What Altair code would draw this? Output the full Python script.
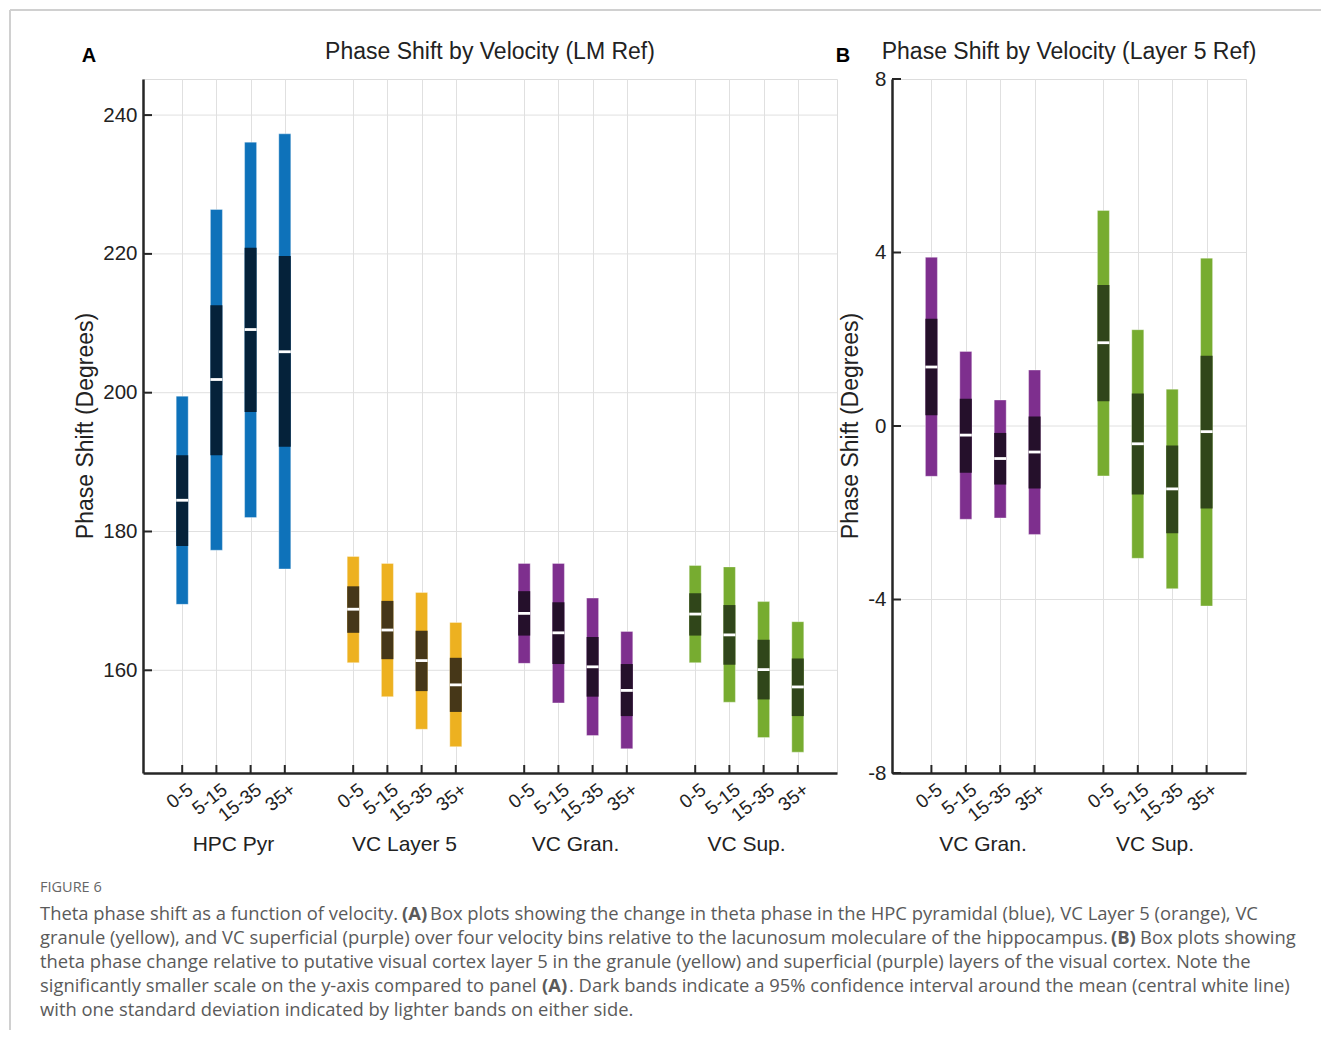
import json
import altair as alt
import pandas as pd

# ---------------- data ----------------
BINS = ["0-5", "5-15", "15-35", "35+"]
GROUPS_A = ["HPC Pyr", "VC Layer 5", "VC Gran.", "VC Sup."]
GROUPS_B = ["VC Gran.", "VC Sup."]

# Panel A (degrees), one list per group over the four velocity bins
A_SD_HI = [[199.5, 226.4, 236.1, 237.3], [176.4, 175.4, 171.2, 166.9],
           [175.4, 175.4, 170.4, 165.6], [175.1, 174.9, 169.9, 167.0]]
A_CI_HI = [[191.0, 212.6, 220.9, 219.7], [172.1, 170.0, 165.7, 161.8],
           [171.4, 169.8, 164.8, 160.9], [171.1, 169.4, 164.4, 161.7]]
A_MEAN = [[184.5, 201.9, 209.1, 205.9], [168.8, 165.8, 161.4, 157.9],
          [168.2, 165.4, 160.5, 157.1], [168.1, 165.1, 160.1, 157.6]]
A_CI_LO = [[177.9, 191.0, 197.2, 192.2], [165.4, 161.6, 157.0, 154.0],
           [165.0, 160.9, 156.2, 153.4], [165.0, 160.8, 155.8, 153.4]]
A_SD_LO = [[169.5, 177.3, 182.0, 174.6], [161.1, 156.2, 151.5, 149.0],
           [161.0, 155.3, 150.6, 148.7], [161.1, 155.4, 150.3, 148.2]]

# Panel B (degrees)
B_SD_HI = [[3.89, 1.72, 0.60, 1.29], [4.97, 2.22, 0.85, 3.87]]
B_CI_HI = [[2.47, 0.63, -0.16, 0.22], [3.25, 0.75, -0.45, 1.62]]
B_MEAN = [[1.36, -0.21, -0.75, -0.60], [1.92, -0.41, -1.45, -0.13]]
B_CI_LO = [[0.25, -1.08, -1.35, -1.44], [0.57, -1.58, -2.47, -1.90]]
B_SD_LO = [[-1.16, -2.15, -2.12, -2.50], [-1.15, -3.05, -3.75, -4.15]]

A_YTICKS = [160, 180, 200, 220, 240]
B_YTICKS = [-8, -4, 0, 4, 8]
B_YGRID = [-4, 0, 4]

LIGHT = {"HPC Pyr": "#0E72BA", "VC Layer 5": "#EDB120", "VC Gran.": "#7E2F8E", "VC Sup.": "#77AC30"}
DARK = {"HPC Pyr": "#05223A", "VC Layer 5": "#463718", "VC Gran.": "#25102B", "VC Sup.": "#30461A"}

CAPTION_HEAD = "FIGURE 6"
# (line, x offset in px from caption left, text, bold)
CAPTION = [
    (0, 0, "Theta phase shift as a function of velocity.", False),
    (0, 362, "(A)", True),
    (0, 390, "Box plots showing the change in theta phase in the HPC pyramidal (blue), VC Layer 5 (orange), VC", False),
    (1, 0, "granule (yellow), and VC superficial (purple) over four velocity bins relative to the lacunosum moleculare of the hippocampus.", False),
    (1, 1071, "(B)", True),
    (1, 1100, "Box plots showing", False),
    (2, 0, "theta phase change relative to putative visual cortex layer 5 in the granule (yellow) and superficial (purple) layers of the visual cortex. Note the", False),
    (3, 0, "significantly smaller scale on the y-axis compared to panel", False),
    (3, 502, "(A)", True),
    (3, 529, ". Dark bands indicate a 95% confidence interval around the mean (central white line)", False),
    (4, 0, "with one standard deviation indicated by lighter bands on either side.", False),
]

# ---------------- layout ----------------
W_A, W_B, H = 694, 354, 694
SPACING = 55
AX = "#262626"
GRID = "#e0e0e0"
FONT = "Liberation Sans"
CAP_FONT = "Open Sans"


def make_df(groups, sd_hi, ci_hi, mean, ci_lo, sd_lo):
    rows = []
    for gi, g in enumerate(groups):
        for bi, b in enumerate(BINS):
            rows.append(dict(group=g, bin=b, pos=gi * 5 + bi + 1,
                             sd_hi=sd_hi[gi][bi], ci_hi=ci_hi[gi][bi], mean=mean[gi][bi],
                             ci_lo=ci_lo[gi][bi], sd_lo=sd_lo[gi][bi],
                             light=LIGHT[g], dark=DARK[g]))
    return pd.DataFrame(rows)


def txt(text, x, y, size=20, bold=False, align="center", angle=0, color="#222222", font=FONT, baseline="middle"):
    kw = dict(fontSize=size, font=font, align=align, baseline=baseline, color=color,
              fontWeight="bold" if bold else "normal")
    if angle:
        kw["angle"] = angle
    return alt.Chart(pd.DataFrame({"t": [text]})).mark_text(**kw).encode(
        x=alt.value(x), y=alt.value(y), text="t:N")


def panel(df, groups, width, xmax, ydom, yticks, ygrid, title, letter, letter_x, ytitle_x):
    label_expr = json.dumps(BINS) + "[(datum.value - 1) % 5]"
    xs = alt.Scale(domain=[0, xmax], nice=False, zero=False)
    ys = alt.Scale(domain=ydom, nice=False, zero=False)
    xaxis = alt.Axis(values=list(df["pos"]), labelExpr=label_expr, title=None, ticks=False,
                     grid=True, gridColor=GRID, gridWidth=1, domainColor=AX, domainWidth=2.5,
                     labelAngle=322, labelAlign="right", labelBaseline="middle",
                     labelFontSize=19, labelFont=FONT, labelColor="#222222",
                     labelPadding=14, labelOffset=8, labelOverlap=False, labelBound=False)
    yaxis = alt.Axis(values=yticks, title=None, ticks=False, grid=False, domainColor=AX,
                     domainWidth=2.5, labelFontSize=20.5, labelFont=FONT, labelColor="#222222",
                     labelPadding=6, labelExpr="'' + datum.value", labelOverlap=False)

    base = alt.Chart(df)
    grid_y = alt.Chart(pd.DataFrame({"v": ygrid})).mark_rule(color=GRID, strokeWidth=1).encode(
        y=alt.Y("v:Q", scale=ys, axis=yaxis), x=alt.value(0), x2=alt.value(width))
    light = base.mark_bar(size=12, stroke="white", strokeWidth=1, strokeOpacity=0.35).encode(
        x=alt.X("pos:Q", scale=xs, axis=xaxis),
        y=alt.Y("sd_lo:Q", scale=ys, axis=yaxis), y2="sd_hi:Q",
        color=alt.Color("light:N", scale=None))
    dark = base.mark_bar(size=12).encode(
        x="pos:Q", y="ci_lo:Q", y2="ci_hi:Q", color=alt.Color("dark:N", scale=None))
    meanl = base.mark_tick(orient="horizontal", size=12, thickness=2.8, color="white", opacity=1).encode(
        x="pos:Q", y="mean:Q")
    xt = base.mark_rule(color=AX, strokeWidth=2).encode(
        x="pos:Q", y=alt.value(H), y2=alt.value(H - 8))
    yt = alt.Chart(pd.DataFrame({"v": yticks})).mark_rule(color=AX, strokeWidth=2).encode(
        y="v:Q", x=alt.value(0), x2=alt.value(9))
    gdf = pd.DataFrame({"g": groups, "c": [i * 5 + 2.5 for i in range(len(groups))]})
    glab = alt.Chart(gdf).mark_text(fontSize=21, font=FONT, color="#222222").encode(
        x="c:Q", y=alt.value(H + 72), text="g:N")
    layers = [grid_y, light, dark, meanl, xt, yt, glab,
              txt(title, width / 2, -27, size=23),
              txt(letter, letter_x, -23, size=20, bold=True, color="#000000"),
              txt("Phase Shift (Degrees)", ytitle_x, H / 2, size=23, angle=270)]
    return layers


df_a = make_df(GROUPS_A, A_SD_HI, A_CI_HI, A_MEAN, A_CI_LO, A_SD_LO)
df_b = make_df(GROUPS_B, B_SD_HI, B_CI_HI, B_MEAN, B_CI_LO, B_SD_LO)

layers_a = panel(df_a, GROUPS_A, W_A, 20, [145.2, 245.2], A_YTICKS, A_YTICKS,
                 "Phase Shift by Velocity (LM Ref)", "A", -54, -57)
layers_b = panel(df_b, GROUPS_B, W_B, 10, [-8, 8], B_YTICKS, B_YGRID,
                 "Phase Shift by Velocity (Layer 5 Ref)", "B", -49, -41)

# frame and caption (positioned relative to panel A's plot origin)
FRAME = "#d0d0d0"
one = pd.DataFrame({"a": [0]})
frame_top = alt.Chart(one).mark_rule(color=FRAME, strokeWidth=2).encode(
    x=alt.value(-133), x2=alt.value(1178), y=alt.value(-69))
frame_left = alt.Chart(one).mark_rule(color=FRAME, strokeWidth=2).encode(
    x=alt.value(-133), y=alt.value(-69), y2=alt.value(951))
cap_x = -103
cap_layers = [txt(CAPTION_HEAD, cap_x, 809, size=14.5, color="#666666", font=CAP_FONT, align="left")]
for line, dx, t, b in CAPTION:
    cap_layers.append(txt(t, cap_x + dx, 835 + 24 * line, size=18.4, bold=b, color="#5a5a5a",
                          font=CAP_FONT, align="left"))

chart_a = alt.layer(frame_top, frame_left, *layers_a, *cap_layers).properties(width=W_A, height=H)
chart_b = alt.layer(*layers_b).properties(width=W_B, height=H)

chart = alt.hconcat(chart_a, chart_b, spacing=SPACING, bounds="flush").properties(
    padding=0).configure_view(stroke=None).configure(background="white")

chart.save("out.html", embed_options={"renderer": "svg", "actions": False})
